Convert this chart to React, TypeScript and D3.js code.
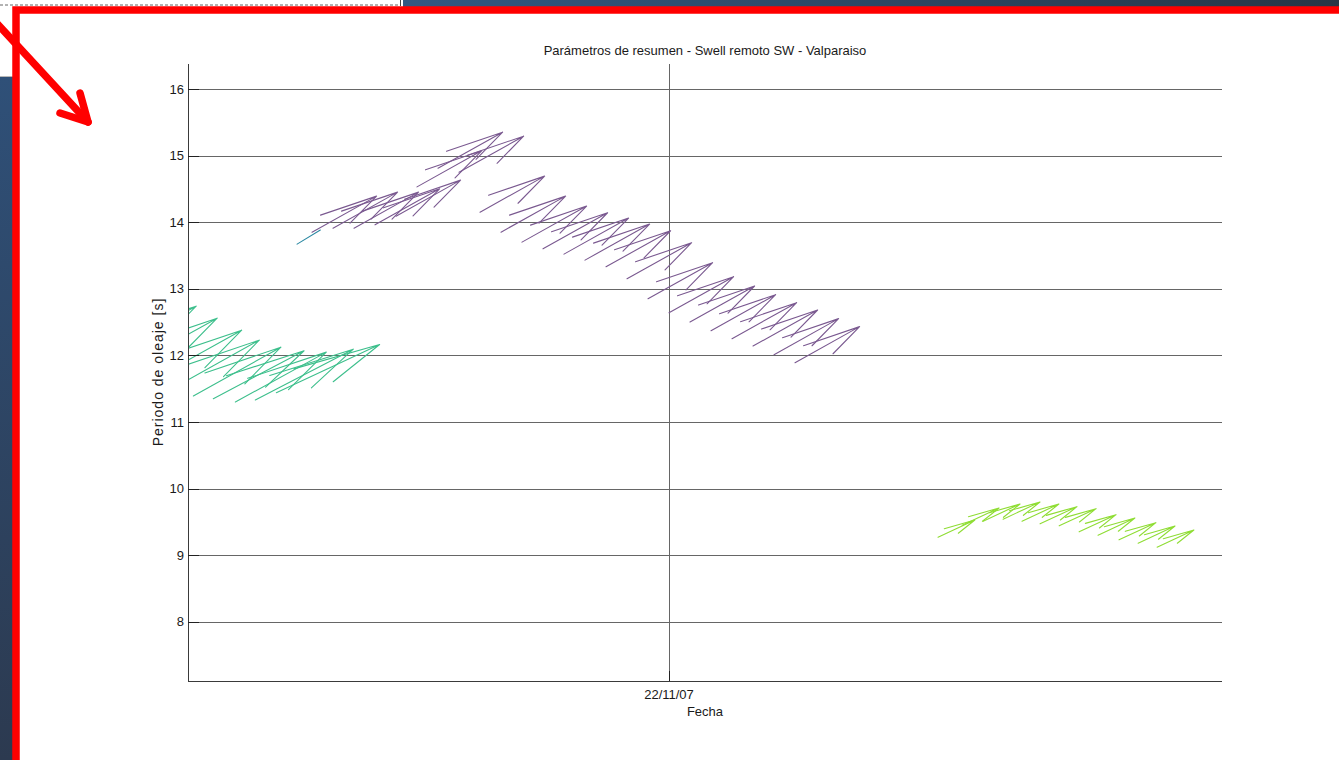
import React from "react";
import * as d3 from "d3";

// Reference date for the time axis (22/11/07 00:00)
const T0 = new Date(2007, 10, 22, 0, 0, 0);
const HOUR = 3600 * 1000;
const at = (h: number) => new Date(T0.getTime() + h * HOUR);

// Swell train A (purple): hours from T0, peak period [s], direction (from, deg), height [m]
const trainAHours = [-17, -16, -15, -14, -13, -12, -11, -10, -9, -8, -7, -6, -5, -4, -3, -2, -1, 0, 1, 2, 3, 4, 5, 6];
const trainAPeriod = [13.85, 13.91, 13.91, 13.96, 14.09, 14.53, 14.81, 14.75, 14.15, 13.85, 13.7, 13.6, 13.52, 13.43, 13.33, 13.15, 12.85, 12.64, 12.5, 12.37, 12.25, 12.14, 12.01, 11.89];
const trainADir = [215, 215, 215, 215, 215, 215, 215, 215, 215, 215, 215, 215, 215, 215, 215, 215, 215, 215, 215, 215, 215, 215, 215, 215];
const trainAHeight = [1.1, 1.1, 1.1, 1.1, 1.1, 1.1, 1.1, 1.1, 1.1, 1.1, 1.1, 1.1, 1.1, 1.1, 1.1, 1.1, 1.1, 1.1, 1.1, 1.1, 1.1, 1.1, 1.1, 1.1];

// Swell train B (green)
const trainBHours = [-26.6, -25.6, -24.6, -23.65, -22.65, -21.7, -20.65, -19.7, -18.7];
const trainBPeriod = [12.02, 11.84, 11.63, 11.5, 11.39, 11.35, 11.3, 11.33, 11.44];
const trainBDir = [215, 215, 215, 215, 215, 216.5, 215.5, 217, 220];
const trainBHeight = [1.46, 1.46, 1.52, 1.48, 1.49, 1.49, 1.53, 1.59, 1.57];

// Swell train C (light green)
const trainCHours = [12.81, 13.96, 14.96, 15.91, 16.81, 17.67, 18.58, 19.53, 20.43, 21.43, 22.34, 23.24];
const trainCPeriod = [9.27, 9.45, 9.51, 9.54, 9.51, 9.47, 9.44, 9.35, 9.3, 9.23, 9.18, 9.12];
const trainCDir = [220, 220, 220, 220, 220, 220, 220, 220, 220, 220, 220, 220];
const trainCHeight = [0.56, 0.56, 0.56, 0.56, 0.56, 0.56, 0.56, 0.56, 0.56, 0.56, 0.56, 0.56];

// Single short vector (teal)
const stubHours = [-17.71];
const stubPeriod = [13.67];
const stubDir = [212.7];
const stubHeight = [0.42];

const yTicks = [8, 9, 10, 11, 12, 13, 14, 15, 16];
const xTickHours = [0];

const TITLE = "Parámetros de resumen - Swell remoto SW - Valparaiso";
const XLABEL = "Fecha";
const YLABEL = "Periodo de oleaje [s]";

const W = 1339;
const H = 760;
const plot = { left: 188, right: 1222, top: 64, bottom: 681 };

// quiver scaling (pixels per unit height) and arrowhead shape
const QX = 102.4;
const QY = 40;
const ALPHA = 0.64;
const BETA = 0.25;

const FONT = "'Liberation Sans', Arial, Helvetica, sans-serif";

export default function App() {
  const x = d3.scaleTime().domain([at(-22.905), at(26.333)]).range([plot.left, plot.right]);
  const y = d3.scaleLinear().domain([7.11, 16.375]).range([plot.bottom, plot.top]);

  const arrowPath = (h: number, T: number, dirFrom: number, hs: number, head: boolean) => {
    const x0 = x(at(h));
    const y0 = y(T);
    const th = ((dirFrom - 180) * Math.PI) / 180;
    const u = hs * Math.sin(th);
    const v = hs * Math.cos(th);
    const P = (a: number, b: number) => `${(x0 + a * QX).toFixed(2)},${(y0 - b * QY).toFixed(2)}`;
    const tip = P(u, v);
    let d = `M${x0.toFixed(2)},${y0.toFixed(2)}L${tip}`;
    if (head) {
      const A = P(u - ALPHA * (u + BETA * v), v - ALPHA * (v - BETA * u));
      const B = P(u - ALPHA * (u - BETA * v), v - ALPHA * (v + BETA * u));
      d += `M${A}L${tip}L${B}`;
    }
    return d;
  };

  const series = [
    { key: "B", hours: trainBHours, period: trainBPeriod, dir: trainBDir, hs: trainBHeight, color: "#3dbf8c", head: true },
    { key: "S", hours: stubHours, period: stubPeriod, dir: stubDir, hs: stubHeight, color: "#2a88a2", head: false },
    { key: "A", hours: trainAHours, period: trainAPeriod, dir: trainADir, hs: trainAHeight, color: "#7a5990", head: true },
    { key: "C", hours: trainCHours, period: trainCPeriod, dir: trainCDir, hs: trainCHeight, color: "#8fdd34", head: true },
  ];

  const midX = (plot.left + plot.right) / 2;

  return (
    <div style={{ position: "fixed", left: 0, top: 0, width: W, height: H, background: "#fff" }}>
      <svg width={W} height={H} style={{ display: "block" }}>
        <defs>
          <linearGradient id="topbar" x1="0" x2="1" y1="0" y2="0">
            <stop offset="0" stopColor="#325882" />
            <stop offset="1" stopColor="#283646" />
          </linearGradient>
          <linearGradient id="sidebar" x1="0" x2="0" y1="0" y2="1">
            <stop offset="0" stopColor="#2f5078" />
            <stop offset="1" stopColor="#2c3a50" />
          </linearGradient>
          <clipPath id="plotclip">
            <rect x={plot.left} y={plot.top} width={plot.right - plot.left} height={plot.bottom - plot.top} />
          </clipPath>
        </defs>

        <rect x={0} y={0} width={W} height={H} fill="#fff" />

        {/* surrounding window chrome */}
        <line x1={0} x2={398} y1={5} y2={5} stroke="#666" strokeDasharray="3,2" strokeWidth={1} />
        <line x1={400.5} x2={400.5} y1={0} y2={6} stroke="#444" strokeWidth={1} />
        <rect x={403} y={0} width={W - 403} height={7} fill="url(#topbar)" />
        <rect x={0} y={77} width={14} height={H - 77} fill="url(#sidebar)" />
        <line x1={0} x2={14} y1={76.5} y2={76.5} stroke="#b8b8b8" strokeWidth={1} />

        {/* grid */}
        <g stroke="#666" strokeWidth={1} shapeRendering="crispEdges">
          {yTicks.map((t) => (
            <line key={t} x1={plot.left} x2={plot.right} y1={Math.round(y(t)) + 0.5} y2={Math.round(y(t)) + 0.5} />
          ))}
          {xTickHours.map((h) => (
            <line key={h} x1={Math.round(x(at(h))) + 0.5} x2={Math.round(x(at(h))) + 0.5} y1={plot.top} y2={plot.bottom} />
          ))}
        </g>

        {/* quiver arrows */}
        <g clipPath="url(#plotclip)" fill="none" strokeWidth={1.1} strokeLinecap="round" strokeLinejoin="round">
          {series.map((s) => (
            <g key={s.key} stroke={s.color}>
              {s.hours.map((h, i) => (
                <path key={i} d={arrowPath(h, s.period[i], s.dir[i], s.hs[i], s.head)} />
              ))}
            </g>
          ))}
        </g>

        {/* axes */}
        <g stroke="#3a3a3a" strokeWidth={1} shapeRendering="crispEdges">
          <line x1={plot.left + 0.5} x2={plot.left + 0.5} y1={plot.top} y2={plot.bottom} />
          <line x1={plot.left} x2={plot.right} y1={plot.bottom + 0.5} y2={plot.bottom + 0.5} />
          {yTicks.map((t) => (
            <line key={t} x1={plot.left} x2={plot.left + 11} y1={Math.round(y(t)) + 0.5} y2={Math.round(y(t)) + 0.5} stroke="#222" />
          ))}
          {xTickHours.map((h) => (
            <line key={h} x1={Math.round(x(at(h))) + 0.5} x2={Math.round(x(at(h))) + 0.5} y1={plot.bottom} y2={plot.bottom - 10} stroke="#222" />
          ))}
        </g>

        {/* labels */}
        <g fontFamily={FONT} fontSize={13} fill="#1a1a1a">
          {yTicks.map((t) => (
            <text key={t} x={plot.left - 4} y={y(t)} dy="0.36em" textAnchor="end">
              {t}
            </text>
          ))}
          {xTickHours.map((h) => (
            <text key={h} x={x(at(h))} y={699} textAnchor="middle">
              {d3.timeFormat("%d/%m/%y")(at(h))}
            </text>
          ))}
          <text x={midX} y={716} textAnchor="middle">{XLABEL}</text>
          <text x={midX} y={55} textAnchor="middle">{TITLE}</text>
          <text
            transform={`translate(163,372) rotate(-90)`}
            textAnchor="middle"
            fontSize={14}
            letterSpacing={1}
          >
            {YLABEL}
          </text>
        </g>

        {/* red annotation frame and pointer */}
        <rect x={16} y={10} width={W + 40} height={H + 40} fill="none" stroke="#ff0000" strokeWidth={7.5} />
        <g stroke="#ff0000" strokeWidth={7.5} fill="none" strokeLinecap="round" strokeLinejoin="round">
          <line x1={-8} y1={18} x2={88} y2={122} />
          <polyline points="80,93 88,122 60,113" />
        </g>
      </svg>
    </div>
  );
}
